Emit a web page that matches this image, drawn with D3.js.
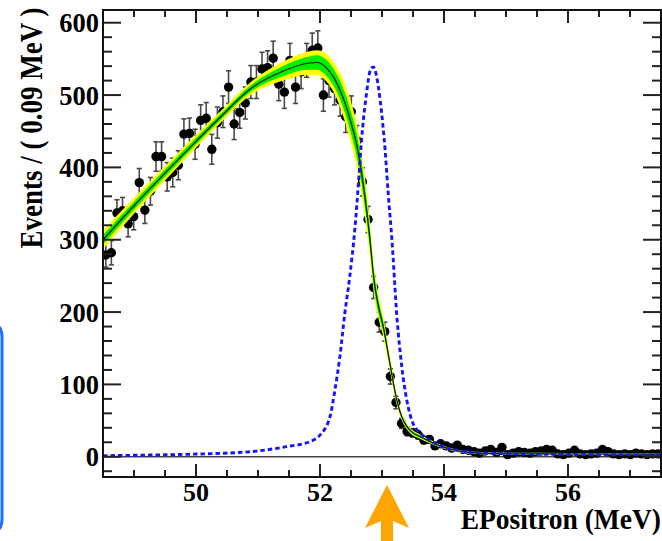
<!DOCTYPE html>
<html><head><meta charset="utf-8">
<script src="https://cdn.jsdelivr.net/npm/d3@7"></script>
<style>
body{margin:0;background:#fff}
svg{display:block}
text{font-family:"Liberation Serif","Times New Roman",serif;font-weight:bold;fill:#000}
</style>
</head><body>
<svg id="c" width="662" height="541"></svg>
<script>
// ---- data ----
const binStart = 48.5, binWidth = 0.09;
const counts = [279,282,337,340,322,332,379,341,367,415,
  415,387,393,403,446,447,432,465,468,425,
  462,477,511,460,476,489,518,518,536,538,
  551,515,504,548,511,532,548,562,565,500,
  520,509,493,470,477,437,380,328,234,186,
  173,111,75,46,35,33,30,23,24,15,
  18,15,12,16,10,9,7,5,8,10,
  6,13,3,5,7,6,5,7,8,10,
  9,4,3,5,9,4,3,4,5,10,
  7,4,3,4,3,5,4,3,4,4];

const fitX = [48.5,49.0,49.5,50.0,50.4,50.9,51.4,51.8,51.95,52.1,
  52.25,52.4,52.5,52.6,52.7,52.8,52.87,52.95,53.02,53.13,
  53.24,53.32,53.4,53.5,53.61,53.8,54.0,54.3,54.6,55.0,56.0,57.5];
const fitY = [300,347,392,436,470,510,533,544,545,538,
  520,490,462,428,375,305,245,205,180,128,
  78,55,42,33,28,20,13,7,5,4,3.8,3.5];
const band2 = [13,11,10,9,8,9,13,16,17,19,
  21,26,28,30,28,24,20,16,14,10,
  7,5,4,3.5,3,2.5,2,1.8,1.6,1.5,1.5,1.5];
const band1 = [6.5,5.5,5,4.5,4,4.5,7,9,10,11,
  12,14,15,16,15,13,11,9,7,5,
  3.5,2.5,2,1.8,1.5,1.3,1,0.9,0.8,0.8,0.8,0.8];

const sigX = [48.5,49.0,49.5,50.0,50.4,51.0,51.46,51.84,52.0,52.16,
  52.24,52.32,52.40,52.48,52.56,52.62,52.67,52.75,52.81,52.86,
  52.91,52.97,53.05,53.10,53.16,53.24,53.32,53.40,53.50,53.6,
  53.75,53.94,54.26,54.7,55.5,57.5];
const sigY = [1.4,2,2.7,3.7,4.7,8,14,21,30,55,
  92,138,198,249,313,378,438,502,534,539,
  527,493,424,364,300,194,124,78,46,34,
  24,15,8,5,3.5,2.5];

const xMajor = [50,52,54,56];
const yMajor = [0,100,200,300,400,500,600];
const xTitle = "EPositron (MeV)";
const yTitle = "Events / ( 0.09 MeV )";

// ---- layout ----
const L = 103, R = 661, T = 10, B = 477;
const x = d3.scaleLinear().domain([48.5, 57.5]).range([L, R]);
const y = d3.scaleLinear().domain([-28, 617.6]).range([B, T]);

const svg = d3.select("#c");
svg.append("defs").append("clipPath").attr("id","clip")
  .append("rect").attr("x",L).attr("y",T).attr("width",R-L).attr("height",B-T);
const plot = svg.append("g").attr("clip-path","url(#clip)");

// zero line
plot.append("line").attr("x1",L).attr("x2",R).attr("y1",y(0)).attr("y2",y(0))
  .attr("stroke","#444").attr("stroke-width",1.6);

// data points
const pts = counts.map((c,i)=>({x: binStart + (i+0.5)*binWidth, v: c, e: Math.sqrt(c)}));
const eb = plot.append("g").attr("stroke","#4a4a4a").attr("stroke-width",1.6);
pts.forEach(p=>{
  const cx = x(p.x);
  eb.append("line").attr("x1",cx).attr("x2",cx).attr("y1",y(p.v+p.e)).attr("y2",y(p.v-p.e));
  eb.append("line").attr("x1",cx-2.6).attr("x2",cx+2.6).attr("y1",y(p.v+p.e)).attr("y2",y(p.v+p.e));
  eb.append("line").attr("x1",cx-2.6).attr("x2",cx+2.6).attr("y1",y(p.v-p.e)).attr("y2",y(p.v-p.e));
});
plot.append("g").selectAll("circle").data(pts).join("circle")
  .attr("cx",d=>x(d.x)).attr("cy",d=>y(d.v)).attr("r",4.7).attr("fill","#000");

// bands + fit
const fit = fitX.map((fx,i)=>({x:fx, v:fitY[i], b1:band1[i], b2:band2[i]}));
const area = k => d3.area().curve(d3.curveMonotoneX)
  .x(d=>x(d.x)).y0(d=>y(d.v-d[k])).y1(d=>y(d.v+d[k]));
plot.append("path").datum(fit).attr("d",area("b2")).attr("fill","#ffff00");
plot.append("path").datum(fit).attr("d",area("b1")).attr("fill","#00ee00");
plot.append("path").datum(fit)
  .attr("d",d3.line().curve(d3.curveMonotoneX).x(d=>x(d.x)).y(d=>y(d.v)))
  .attr("fill","none").attr("stroke","#0a1a00").attr("stroke-width",1.2);

// signal shape (dashed blue)
const sig = sigX.map((sx,i)=>({x:sx, v:sigY[i]}));
plot.append("path").datum(sig)
  .attr("d",d3.line().curve(d3.curveMonotoneX).x(d=>x(d.x)).y(d=>y(d.v)))
  .attr("fill","none").attr("stroke","#1414ff").attr("stroke-width",2.9)
  .attr("stroke-dasharray","4.5,3");

// ---- frame & ticks ----
const ax = svg.append("g").attr("stroke","#222").attr("stroke-width",2);
const xMinor = d3.range(49, 57.5, 0.5).filter(v=>!xMajor.includes(v));
const yMinor = d3.range(-20, 617, 20).filter(v=>!yMajor.includes(v));
xMajor.forEach(v=>{
  ax.append("line").attr("x1",x(v)).attr("x2",x(v)).attr("y1",B).attr("y2",B-13);
  ax.append("line").attr("x1",x(v)).attr("x2",x(v)).attr("y1",T).attr("y2",T+13);
});
xMinor.forEach(v=>{
  ax.append("line").attr("x1",x(v)).attr("x2",x(v)).attr("y1",B).attr("y2",B-7);
  ax.append("line").attr("x1",x(v)).attr("x2",x(v)).attr("y1",T).attr("y2",T+7);
});
yMajor.forEach(v=>{
  ax.append("line").attr("x1",L).attr("x2",L+18).attr("y1",y(v)).attr("y2",y(v));
  ax.append("line").attr("x1",R).attr("x2",R-18).attr("y1",y(v)).attr("y2",y(v));
});
yMinor.forEach(v=>{
  ax.append("line").attr("x1",L).attr("x2",L+9).attr("y1",y(v)).attr("y2",y(v));
  ax.append("line").attr("x1",R).attr("x2",R-9).attr("y1",y(v)).attr("y2",y(v));
});
svg.append("rect").attr("x",L).attr("y",T).attr("width",R-L).attr("height",B-T)
  .attr("fill","none").attr("stroke","#111").attr("stroke-width",2);

// tick labels
svg.append("g").selectAll("text").data(yMajor).join("text")
  .attr("x",99).attr("y",d=>y(d)+9.5).attr("text-anchor","end")
  .attr("font-size",26.5).text(d=>d);
svg.append("g").selectAll("text").data(xMajor).join("text")
  .attr("x",d=>x(d)).attr("y",501).attr("text-anchor","middle")
  .attr("font-size",26).text(d=>d);

// titles
svg.append("text").attr("transform","translate(661,529) scale(1,1.08)")
  .attr("text-anchor","end").attr("font-size",27.5).text(xTitle);
svg.append("text").attr("transform","translate(42,128) rotate(-90) scale(1,1.2)")
  .attr("text-anchor","middle").attr("font-size",27).text(yTitle);

// orange arrow
svg.append("path")
  .attr("d","M387,485 L409,528 L393,521 L393,541 L381,541 L381,521 L365,528 Z")
  .attr("fill","#ffa500");

// blue box edge at left
svg.append("path").attr("d","M-12,323 Q2,323 2,337 L2,519 Q2,533 -12,533")
  .attr("fill","none").attr("stroke","#1a6dff").attr("stroke-width",3);
</script>
</body></html>
